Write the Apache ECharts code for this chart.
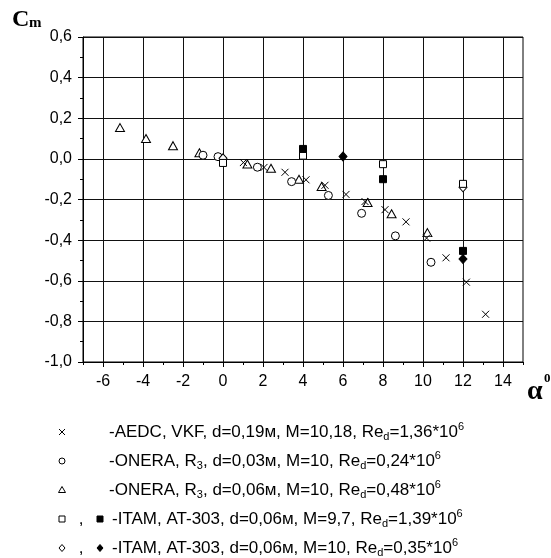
<!DOCTYPE html>
<html>
<head>
<meta charset="utf-8">
<script src="https://cdn.jsdelivr.net/npm/echarts@6/dist/echarts.min.js"></script>
<style>
  html, body { margin: 0; padding: 0; background: #fff; }
  #chart { width: 551px; height: 558px; }
</style>
</head>
<body>
<div id="chart"></div>
<script>
// Pitching moment coefficient Cm versus angle of attack alpha (degrees)
const aedcVkf = [[1.02, -0.018], [2.05, -0.042], [3.1, -0.066], [4.15, -0.103], [5.1, -0.13],
  [6.15, -0.175], [7.1, -0.21], [8.1, -0.25], [9.15, -0.31], [10.18, -0.39],
  [11.15, -0.487], [12.17, -0.607], [13.13, -0.765]];
const oneraD003 = [[-1.0, 0.018], [-0.25, 0.011], [1.72, -0.041], [3.43, -0.112],
  [5.27, -0.18], [6.93, -0.268], [8.62, -0.379], [10.4, -0.509]];
const oneraD006 = [[-5.15, 0.154], [-3.85, 0.10], [-2.5, 0.065], [-1.18, 0.03], [1.22, -0.025],
  [2.4, -0.046], [3.8, -0.10], [4.93, -0.136], [7.23, -0.215], [8.43, -0.27], [10.22, -0.363]];
const itamM97Open = [[0, -0.02], [4, 0.016], [8, -0.026], [12, -0.123]];
const itamM97Filled = [[4, 0.049], [8, -0.10], [12, -0.453]];
const itamM10Open = [[0, 0.003], [12, -0.14]];
const itamM10Filled = [[6, 0.012], [12, -0.493]];

// Axis ranges
const alphaRange = [-7, 15];
const alphaLabelRange = [-6, 14];
const cmRange = [-1.0, 0.6];

// Legend captions (rich text: {s|..} subscript, {p|..} superscript)
const legendTexts = [
  '-AEDC, VKF, d=0,19м, M=10,18, Re{s|d}=1,36*10{p|6}',
  '-ONERA, R{s|3}, d=0,03м, M=10, Re{s|d}=0,24*10{p|6}',
  '-ONERA, R{s|3}, d=0,06м, M=10, Re{s|d}=0,48*10{p|6}',
  '-ITAM, AT-303, d=0,06м, M=9,7, Re{s|d}=1,39*10{p|6}',
  '-ITAM, AT-303, d=0,06м, M=10, Re{s|d}=0,35*10{p|6}'
];

const FONT = 'Liberation Sans';
const SERIF = 'Liberation Serif';
const INK = '#000';

const chart = echarts.init(document.getElementById('chart'), null, { renderer: 'canvas' });

function markerStyle(fill) {
  return { color: fill, borderColor: INK, borderWidth: 1, opacity: 1 };
}
function scatter(name, data, symbol, size, fill) {
  return {
    name, type: 'scatter', xAxisIndex: 0, yAxisIndex: 0,
    data, symbol, symbolSize: size,
    itemStyle: markerStyle(fill),
    emphasis: { disabled: true },
    animation: false, z: 5
  };
}

const crossPath = 'path://M0,0L10,10M10,0L0,10';

// Legend block drawn with graphic primitives
const rowY0 = 432, rowStep = 29, symX1 = 62, symX2 = 100;
const legendGraphics = [];
const sym = {
  cross(x, y) {
    legendGraphics.push({ type: 'line', shape: { x1: x - 3, y1: y - 3, x2: x + 3, y2: y + 3 }, style: { stroke: INK, lineWidth: 1 } });
    legendGraphics.push({ type: 'line', shape: { x1: x + 3, y1: y - 3, x2: x - 3, y2: y + 3 }, style: { stroke: INK, lineWidth: 1 } });
  },
  circle(x, y) {
    legendGraphics.push({ type: 'circle', shape: { cx: x, cy: y, r: 3 }, style: { fill: '#fff', stroke: INK, lineWidth: 1 } });
  },
  triangle(x, y) {
    legendGraphics.push({ type: 'polygon', shape: { points: [[x, y - 3.5], [x + 3.5, y + 2.5], [x - 3.5, y + 2.5]] }, style: { fill: '#fff', stroke: INK, lineWidth: 1 } });
  },
  square(x, y, fill) {
    legendGraphics.push({ type: 'rect', shape: { x: x - 3, y: y - 3, width: 6, height: 6 }, style: { fill, stroke: INK, lineWidth: 1 } });
  },
  diamond(x, y, fill) {
    legendGraphics.push({ type: 'polygon', shape: { points: [[x, y - 3.5], [x + 3, y], [x, y + 3.5], [x - 3, y]] }, style: { fill, stroke: INK, lineWidth: 1 } });
  }
};
const comma = (y) => legendGraphics.push({
  type: 'text', x: 81, y: y,
  style: { text: ',', fontFamily: FONT, fontSize: 17, fill: INK, align: 'center', verticalAlign: 'middle' }
});

sym.cross(symX1, rowY0);
sym.circle(symX1, rowY0 + rowStep);
sym.triangle(symX1, rowY0 + rowStep * 2);
sym.square(symX1, rowY0 + rowStep * 3, '#fff');
comma(rowY0 + rowStep * 3);
sym.square(symX2, rowY0 + rowStep * 3, INK);
sym.diamond(symX1, rowY0 + rowStep * 4, '#fff');
comma(rowY0 + rowStep * 4);
sym.diamond(symX2, rowY0 + rowStep * 4, INK);

legendTexts.forEach((t, i) => {
  legendGraphics.push({
    type: 'text', x: i < 3 ? 109 : 112, y: rowY0 + rowStep * i,
    style: {
      text: t, fontFamily: FONT, fontSize: 17, lineHeight: 21, fill: INK,
      align: 'left', verticalAlign: 'middle',
      rich: {
        s: { fontFamily: FONT, fontSize: 11, lineHeight: 11, verticalAlign: 'bottom', fill: INK },
        p: { fontFamily: FONT, fontSize: 11, lineHeight: 11, verticalAlign: 'top', fill: INK }
      }
    }
  });
});

// Axis titles
const titleGraphics = [
  { type: 'text', x: 12, y: 20, style: { text: 'C', fontFamily: SERIF, fontWeight: 'bold', fontSize: 24, fill: INK, align: 'left', verticalAlign: 'middle' } },
  { type: 'text', x: 29, y: 23, style: { text: 'm', fontFamily: SERIF, fontWeight: 'bold', fontSize: 15, fill: INK, align: 'left', verticalAlign: 'middle' } },
  { type: 'text', x: 527, y: 392, style: { text: 'α', fontFamily: SERIF, fontWeight: 'bold', fontSize: 28, fill: INK, align: 'left', verticalAlign: 'middle' } },
  { type: 'text', x: 544, y: 379, style: { text: '0', fontFamily: SERIF, fontWeight: 'bold', fontSize: 13, fill: INK, align: 'left', verticalAlign: 'middle' } }
];

const gridLine = { color: '#111', width: 1 };
const decimalComma = (v) => (Math.round(v * 10) / 10).toFixed(1).replace('.', ',');

const option = {
  backgroundColor: '#fff',
  animation: false,
  grid: [
    { left: 83, top: 37, width: 440, height: 325, containLabel: false, outerBoundsMode: 'none',
      show: true, borderColor: INK, borderWidth: 1, backgroundColor: 'transparent' },
    { left: 103, top: 37, width: 400, height: 325, containLabel: false, outerBoundsMode: 'none' }
  ],
  xAxis: [
    {
      gridIndex: 0, type: 'value', min: alphaRange[0], max: alphaRange[1], interval: 1,
      axisLine: { show: true, onZero: false, lineStyle: { color: INK, width: 1 } },
      axisTick: { show: true, length: 3, lineStyle: { color: INK, width: 1 } },
      axisLabel: { show: false },
      splitLine: { show: false }
    },
    {
      gridIndex: 1, type: 'value', min: alphaLabelRange[0], max: alphaLabelRange[1], interval: 2,
      axisLine: { show: false, onZero: false },
      axisTick: { show: true, length: 5, lineStyle: { color: INK, width: 1 } },
      axisLabel: { show: true, fontFamily: FONT, fontSize: 16, color: INK, margin: 12,
        showMinLabel: true, showMaxLabel: true, formatter: (v) => String(v) },
      splitLine: { show: true, lineStyle: gridLine }
    }
  ],
  yAxis: [
    {
      gridIndex: 0, type: 'value', min: cmRange[0], max: cmRange[1], interval: 0.2,
      axisLine: { show: true, onZero: false, lineStyle: { color: INK, width: 1 } },
      axisTick: { show: true, length: 5, lineStyle: { color: INK, width: 1 } },
      minorTick: { show: true, splitNumber: 2, length: 3, lineStyle: { color: INK, width: 1 } },
      axisLabel: { show: true, fontFamily: FONT, fontSize: 16, color: INK, margin: 11,
        showMinLabel: true, showMaxLabel: true, formatter: decimalComma },
      splitLine: { show: true, lineStyle: gridLine }
    },
    {
      gridIndex: 1, type: 'value', min: cmRange[0], max: cmRange[1], show: false,
      splitLine: { show: false }
    }
  ],
  series: [
    scatter('ONERA d=0,06', oneraD006, 'triangle', [9, 8], '#fff'),
    scatter('ONERA d=0,03', oneraD003, 'circle', 8, '#fff'),
    scatter('AEDC VKF', aedcVkf, crossPath, 7, INK),
    scatter('ITAM M=10 open', itamM10Open, 'diamond', [8, 9], '#fff'),
    scatter('ITAM M=9,7 open', itamM97Open, 'rect', 7, '#fff'),
    scatter('ITAM M=10 filled', itamM10Filled, 'diamond', [8, 9], INK),
    scatter('ITAM M=9,7 filled', itamM97Filled, 'rect', 7, INK)
  ],
  graphic: { elements: titleGraphics.concat(legendGraphics) }
};

chart.setOption(option);
</script>
</body>
</html>
